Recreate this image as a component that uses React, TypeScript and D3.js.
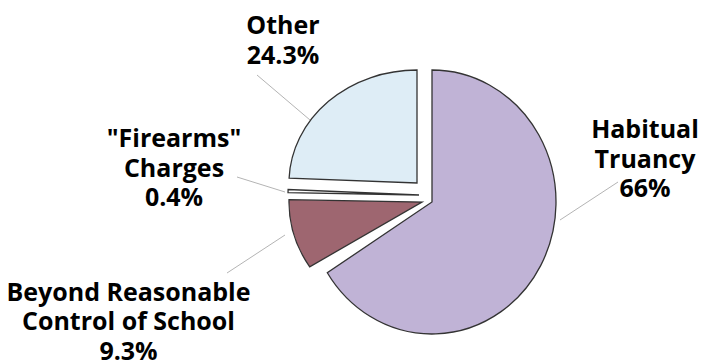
import React from 'react';
import * as d3 from 'd3';

// ---- data ----
const categories = ['Habitual Truancy', 'Beyond Reasonable Control of School', '"Firearms" Charges', 'Other'];
const values = [66, 9.3, 0.4, 24.3];
const valueLabels = ['66%', '9.3%', '0.4%', '24.3%'];
const labelLines = [
  ['Habitual', 'Truancy'],
  ['Beyond Reasonable', 'Control of School'],
  ['"Firearms"', 'Charges'],
  ['Other'],
];

// ---- layout / style ----
const W = 701;
const H = 363;
const CX = 425;
const CY = 195;
const BASE_R = 100;
const sliceStyle = [
  { fill: '#c0b3d6', dx: 7, dy: 7, rx: 124, ry: 132 },
  { fill: '#9e6670', dx: -3, dy: 7, rx: 133, ry: 121 },
  { fill: '#ffffff', dx: -6, dy: 0, rx: 131, ry: 125 },
  { fill: '#deedf6', dx: -8, dy: -12, rx: 128, ry: 113 },
];
const labelStyle = [
  { x: 645, y: 138, leader: [[560, 220], [618, 182]] },
  { x: 128.5, y: 300.5, leader: [[285, 235], [227, 273]] },
  { x: 174, y: 147, leader: [[285, 192], [237, 177]] },
  { x: 283, y: 34, leader: [[310, 120], [257, 75]] },
];
const LINE_H = 29.5;
const FONT = '"Open Sans", "DejaVu Sans", sans-serif';

export default function App() {
  const pie = d3.pie<number>().sort(null).value((d) => d);
  const arcs = pie(values);
  const arcGen = d3.arc<d3.PieArcDatum<number>>().innerRadius(0).outerRadius(BASE_R);

  return (
    <svg
      width={W}
      height={H}
      viewBox={`0 0 ${W} ${H}`}
      style={{ position: 'absolute', left: 0, top: 0, background: '#fff' }}
    >
      <rect x={0} y={0} width={W} height={H} fill="#fff" />
      {labelStyle.map((l, i) => (
        <line
          key={'ld' + i}
          x1={l.leader[0][0]}
          y1={l.leader[0][1]}
          x2={l.leader[1][0]}
          y2={l.leader[1][1]}
          stroke="#b4b4b4"
          strokeWidth={1}
        />
      ))}
      {arcs.map((a, i) => {
        const s = sliceStyle[i];
        return (
          <path
            key={categories[i]}
            d={arcGen(a) || ''}
            transform={`translate(${CX + s.dx},${CY + s.dy}) scale(${s.rx / BASE_R},${s.ry / BASE_R})`}
            fill={s.fill}
            stroke="#333"
            strokeWidth={1.3}
            strokeLinejoin="miter"
            vectorEffect="non-scaling-stroke"
          />
        );
      })}
      {labelStyle.map((l, i) => {
        const lines = [...labelLines[i], valueLabels[i]];
        return (
          <text
            key={'lb' + i}
            x={l.x}
            y={l.y}
            textAnchor="middle"
            fontFamily={FONT}
            fontWeight={700}
            fontSize={25}
            fill="#000"
          >
            {lines.map((t, j) => (
              <tspan key={j} x={l.x} y={l.y + j * LINE_H}>
                {t}
              </tspan>
            ))}
          </text>
        );
      })}
    </svg>
  );
}
